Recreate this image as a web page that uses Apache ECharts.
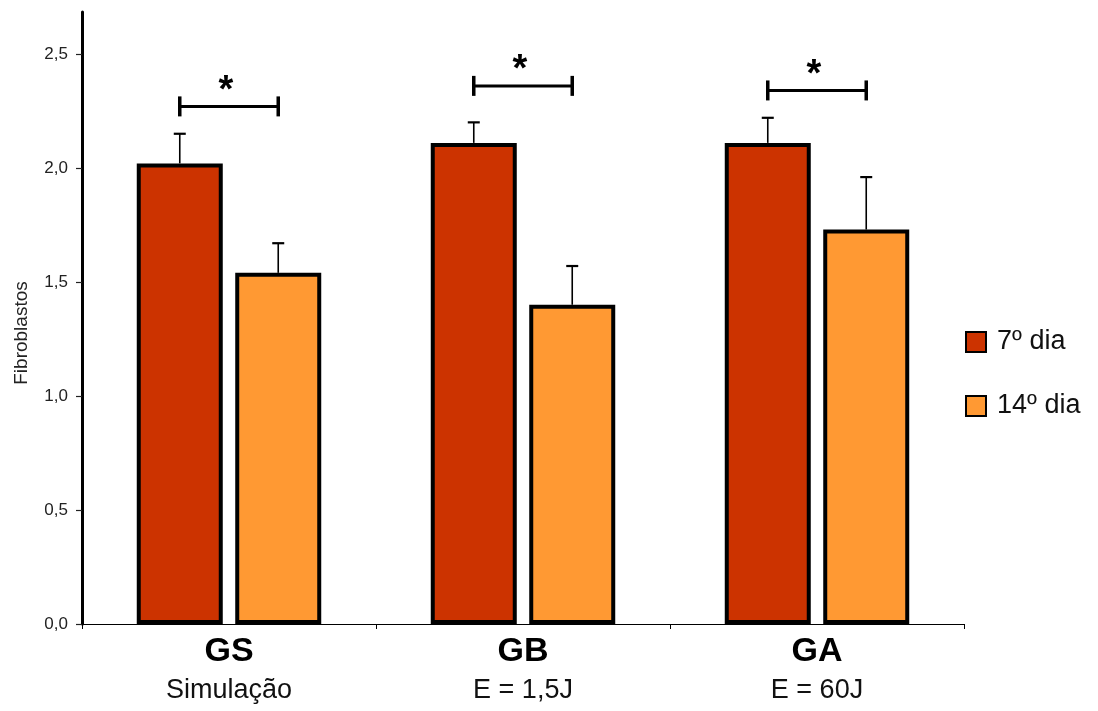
<!DOCTYPE html>
<html>
<head>
<meta charset="utf-8">
<script src="https://cdn.jsdelivr.net/npm/echarts@6/dist/echarts.min.js"></script>
<style>
html,body{margin:0;padding:0;background:#fff;}
#chart{width:1098px;height:711px;}
</style>
</head>
<body>
<div id="chart"></div>
<script>
// ---- data ----
const categories = ['GS', 'GB', 'GA'];
const subtitles = ['Simulação', 'E = 1,5J', 'E = 60J'];
const seriesNames = ['7º dia', '14º dia'];
const day7 = [2.02, 2.11, 2.11];
const day14 = [1.54, 1.40, 1.73];
const sd7 = [0.13, 0.09, 0.11];
const sd14 = [0.13, 0.17, 0.23];
const sigLevels = [2.27, 2.36, 2.34];
const yTicks = [0, 0.5, 1.0, 1.5, 2.0, 2.5];
const yMax = 2.684;

// ---- style constants ----
const BAR_W = 86;
const BAR_GAP = 0.145;
const HALF = (BAR_W + BAR_W * BAR_GAP) / 2;
const FONT = '"Liberation Sans", Arial, sans-serif';

const chart = echarts.init(document.getElementById('chart'), null, {renderer: 'canvas'});

function errItem(offset) {
  return function (params, api) {
    const i = api.value(0);
    const cx = api.coord([i, 0])[0] + offset;
    const yb = api.coord([i, api.value(1)])[1];
    const yt = api.coord([i, api.value(1) + api.value(2)])[1];
    return {
      type: 'group',
      children: [
        {type: 'line', shape: {x1: cx, y1: yb, x2: cx, y2: yt}, style: {stroke: '#000', lineWidth: 1.6}},
        {type: 'line', shape: {x1: cx - 6, y1: yt, x2: cx + 6, y2: yt}, style: {stroke: '#000', lineWidth: 2.2}}
      ]
    };
  };
}

const option = {
  backgroundColor: '#fff',
  animation: false,
  textStyle: {fontFamily: FONT},
  grid: {left: 82, right: 134, top: 12, bottom: 87, containLabel: false},
  legend: {
    orient: 'vertical',
    left: 960,
    top: 322,
    data: seriesNames,
    itemWidth: 20,
    itemHeight: 20,
    itemGap: 34,
    icon: 'rect',
    itemStyle: {borderColor: '#000', borderWidth: 2},
    textStyle: {fontSize: 27, color: '#111', fontFamily: FONT, padding: [0, 0, 0, 6], lineHeight: 30}
  },
  xAxis: {
    type: 'category',
    data: categories,
    axisLine: {lineStyle: {color: '#000', width: 1}},
    axisTick: {show: true, length: 5, lineStyle: {color: '#000', width: 1}},
    axisLabel: {
      margin: 9,
      formatter: function (v, i) { return '{a|' + v + '}\n{b|' + subtitles[i] + '}'; },
      rich: {
        a: {fontSize: 34, fontWeight: 'bold', color: '#000', lineHeight: 38, fontFamily: FONT},
        b: {fontSize: 27, color: '#111', lineHeight: 40, fontFamily: FONT}
      }
    }
  },
  yAxis: {
    type: 'value',
    min: 0,
    max: yMax,
    interval: 0.5,
    splitLine: {show: false},
    axisLine: {show: true, lineStyle: {color: '#000', width: 3}},
    axisTick: {show: true, length: 6, customValues: yTicks, lineStyle: {color: '#222', width: 1.2}},
    axisLabel: {
      customValues: yTicks,
      margin: 14,
      fontSize: 17,
      color: '#222',
      fontFamily: FONT,
      formatter: function (v) { return v.toFixed(1).replace('.', ','); }
    }
  },
  graphic: [
    {
      type: 'text',
      x: 22, y: 333,
      rotation: Math.PI / 2,
      style: {text: 'Fibroblastos', fontSize: 19, fill: '#222', fontFamily: FONT, align: 'center', verticalAlign: 'middle'}
    }
  ],
  series: [
    {
      name: seriesNames[0],
      type: 'bar',
      data: day7,
      barWidth: BAR_W,
      barGap: (BAR_GAP * 100) + '%',
      itemStyle: {color: '#CC3300', borderColor: '#000', borderWidth: 4},
      z: 3
    },
    {
      name: seriesNames[1],
      type: 'bar',
      data: day14,
      barWidth: BAR_W,
      barGap: (BAR_GAP * 100) + '%',
      itemStyle: {color: '#FF9933', borderColor: '#000', borderWidth: 4},
      z: 3
    },
    {
      type: 'custom',
      name: 'err7',
      data: categories.map((c, i) => [i, day7[i], sd7[i]]),
      renderItem: errItem(-HALF),
      z: 2
    },
    {
      type: 'custom',
      name: 'err14',
      data: categories.map((c, i) => [i, day14[i], sd14[i]]),
      renderItem: errItem(HALF),
      z: 2
    },
    {
      type: 'custom',
      name: 'sig',
      data: categories.map((c, i) => [i, sigLevels[i]]),
      renderItem: function (params, api) {
        const i = api.value(0);
        const cx = api.coord([i, 0])[0];
        const y = api.coord([i, api.value(1)])[1];
        const x1 = cx - HALF, x2 = cx + HALF;
        return {
          type: 'group',
          children: [
            {type: 'line', shape: {x1: x1, y1: y, x2: x2, y2: y}, style: {stroke: '#000', lineWidth: 3}},
            {type: 'line', shape: {x1: x1, y1: y - 10, x2: x1, y2: y + 10}, style: {stroke: '#000', lineWidth: 3.5}},
            {type: 'line', shape: {x1: x2, y1: y - 10, x2: x2, y2: y + 10}, style: {stroke: '#000', lineWidth: 3.5}},
            {type: 'text', x: cx - 3, y: y + 4, style: {text: '*', fontSize: 38, fontWeight: 'bold', fill: '#000', fontFamily: FONT, align: 'center', verticalAlign: 'bottom'}}
          ]
        };
      },
      z: 4
    }
  ]
};

chart.setOption(option);
</script>
</body>
</html>
